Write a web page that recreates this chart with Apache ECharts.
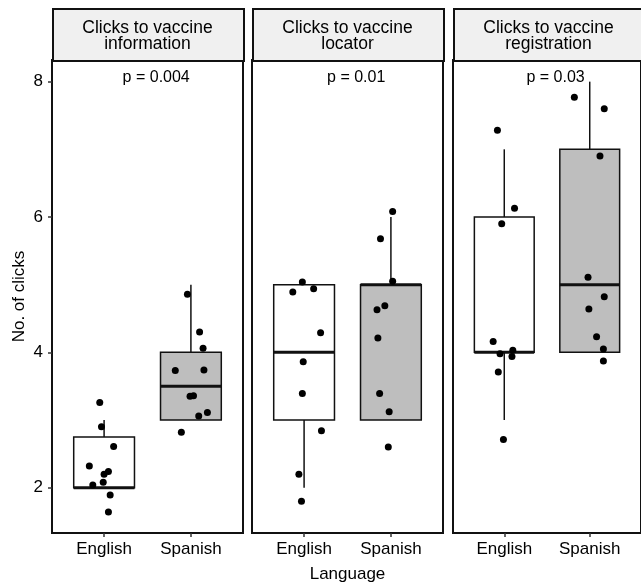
<!DOCTYPE html>
<html>
<head>
<meta charset="utf-8">
<script src="https://cdn.jsdelivr.net/npm/echarts@6/dist/echarts.min.js"></script>
<style>
  html, body { margin: 0; padding: 0; background: #fff; }
  #chart { width: 641px; height: 582px; }
</style>
</head>
<body>
<div id="chart"></div>
<script>
// facets, groups and labels
var languages = ['English', 'Spanish'];
var panelTitles = ['Clicks to vaccine\ninformation', 'Clicks to vaccine\nlocator', 'Clicks to vaccine\nregistration'];
var pLabels = ['p = 0.004', 'p = 0.01', 'p = 0.03'];
var yTicks = [2, 4, 6, 8];

// box stats: [lower whisker, Q1, median, Q3, upper whisker]
var infoBoxEnglish = [2, 2, 2, 2.75, 3];
var infoBoxSpanish = [3, 3, 3.5, 4, 5];
var locatorBoxEnglish = [2, 3, 4, 5, 5];
var locatorBoxSpanish = [3, 3, 5, 5, 6];
var registrationBoxEnglish = [3, 4, 4, 6, 7];
var registrationBoxSpanish = [4, 4, 5, 7, 8];

// jittered points: [horizontal jitter, clicks]
var infoPtsEnglish = [[-0.05, 3.26], [-0.03, 2.90], [0.11, 2.61], [-0.17, 2.32], [0.05, 2.24], [0, 2.20], [-0.13, 2.04], [-0.01, 2.08], [0.07, 1.89], [0.05, 1.64]];
var infoPtsSpanish = [[-0.04, 4.86], [0.10, 4.30], [0.14, 4.06], [-0.18, 3.73], [0.15, 3.74], [-0.01, 3.35], [0.03, 3.36], [0.09, 3.06], [0.19, 3.11], [-0.11, 2.82]];
var locatorPtsEnglish = [[-0.02, 5.04], [-0.13, 4.89], [0.11, 4.94], [0.19, 4.29], [-0.01, 3.86], [-0.02, 3.39], [0.20, 2.84], [-0.06, 2.20], [-0.03, 1.80]];
var locatorPtsSpanish = [[0.02, 6.08], [-0.12, 5.68], [0.02, 5.05], [-0.16, 4.63], [-0.07, 4.69], [-0.15, 4.21], [-0.13, 3.39], [-0.02, 3.12], [-0.03, 2.60]];
var registrationPtsEnglish = [[-0.08, 7.28], [0.12, 6.13], [-0.03, 5.90], [-0.13, 4.16], [-0.05, 3.98], [0.10, 4.03], [0.09, 3.94], [-0.07, 3.71], [-0.01, 2.71]];
var registrationPtsSpanish = [[-0.18, 7.77], [0.17, 7.60], [0.12, 6.90], [-0.02, 5.11], [0.17, 4.82], [-0.01, 4.64], [0.08, 4.23], [0.16, 4.05], [0.16, 3.87]];

var boxes = [
  [infoBoxEnglish, infoBoxSpanish],
  [locatorBoxEnglish, locatorBoxSpanish],
  [registrationBoxEnglish, registrationBoxSpanish]
];
var points = [
  [infoPtsEnglish, infoPtsSpanish],
  [locatorPtsEnglish, locatorPtsSpanish],
  [registrationPtsEnglish, registrationPtsSpanish]
];
var boxFills = ['#ffffff', '#bebebe'];

var FONT = 'Liberation Sans, Arial, sans-serif';
var panelLeft = [52, 252, 453];
var panelWidth = [191, 191, 188];
var panelTop = 60;
var panelBottom = 49;

var myChart = echarts.init(document.getElementById('chart'));

function renderBox(params, api) {
  var x = api.value(0);
  var lo = api.coord([x, api.value(1)]);
  var q1 = api.coord([x, api.value(2)]);
  var med = api.coord([x, api.value(3)]);
  var q3 = api.coord([x, api.value(4)]);
  var hi = api.coord([x, api.value(5)]);
  var half = api.size([0.7, 0])[0] / 2;
  var fill = boxFills[params.dataIndex];
  var lineStyle = { stroke: '#111', lineWidth: 1.5 };
  return {
    type: 'group',
    children: [
      { type: 'line', shape: { x1: q3[0], y1: q3[1], x2: hi[0], y2: hi[1] }, style: lineStyle },
      { type: 'line', shape: { x1: lo[0], y1: lo[1], x2: q1[0], y2: q1[1] }, style: lineStyle },
      { type: 'rect', shape: { x: q3[0] - half, y: q3[1], width: half * 2, height: q1[1] - q3[1] },
        style: { fill: fill, stroke: '#111', lineWidth: 1.5 } },
      { type: 'line', shape: { x1: med[0] - half, y1: med[1], x2: med[0] + half, y2: med[1] },
        style: { stroke: '#111', lineWidth: 3 } }
    ]
  };
}

var grids = [], xAxes = [], yAxes = [], series = [], graphics = [];

for (var i = 0; i < 3; i++) {
  grids.push({
    left: panelLeft[i], width: panelWidth[i], top: panelTop, bottom: panelBottom,
    outerBoundsMode: 'none', containLabel: false,
    show: true, borderColor: '#111', borderWidth: 2, backgroundColor: '#fff'
  });
  xAxes.push({
    type: 'value', gridIndex: i, min: 0.4, max: 2.6,
    splitLine: { show: false },
    axisLine: { show: false },
    axisTick: { show: true, customValues: [1, 2], length: 4, lineStyle: { color: '#333', width: 1.5 } },
    axisLabel: {
      customValues: [1, 2], margin: 8, color: '#000', fontSize: 17, fontFamily: FONT,
      formatter: function (v) { return languages[Math.round(v) - 1]; }
    },
    name: i === 1 ? 'Language' : '', nameLocation: 'middle', nameGap: 33,
    nameTextStyle: { color: '#000', fontSize: 17, fontFamily: FONT }
  });
  yAxes.push({
    type: 'value', gridIndex: i, min: 1.33, max: 8.32,
    splitLine: { show: false },
    axisLine: { show: false },
    axisTick: { show: i === 0, customValues: yTicks, length: 4, lineStyle: { color: '#333', width: 1.5 } },
    axisLabel: { show: i === 0, customValues: yTicks, margin: 9, color: '#000', fontSize: 17, fontFamily: FONT },
    name: i === 0 ? 'No. of clicks' : '', nameLocation: 'middle', nameGap: 24,
    nameTextStyle: { color: '#000', fontSize: 17, fontFamily: FONT }
  });

  series.push({
    type: 'custom', xAxisIndex: i, yAxisIndex: i, z: 2,
    renderItem: renderBox,
    data: boxes[i].map(function (b, k) { return [k + 1].concat(b); })
  });
  for (var k = 0; k < 2; k++) {
    series.push({
      type: 'scatter', xAxisIndex: i, yAxisIndex: i, z: 3,
      symbolSize: 7, itemStyle: { color: '#000', opacity: 1 },
      data: points[i][k].map(function (p) { return [k + 1 + p[0], p[1]]; })
    });
  }
  series.push({
    type: 'scatter', xAxisIndex: i, yAxisIndex: i, z: 4,
    symbolSize: 0, silent: true, itemStyle: { opacity: 1 },
    label: {
      show: true, position: 'inside', color: '#000', opacity: 1, fontSize: 16, fontFamily: FONT,
      formatter: pLabels[i]
    },
    data: [[1.6, 8.06]]
  });

  // facet strip
  graphics.push({
    type: 'rect', left: panelLeft[i], top: 8,
    shape: { width: panelWidth[i], height: 52 },
    style: { fill: '#f0f0f0', stroke: '#111', lineWidth: 2 }
  });
  graphics.push({
    type: 'text', x: panelLeft[i] + 191 / 2, y: 36,
    style: {
      text: panelTitles[i], fill: '#000', font: '17.5px ' + FONT, lineHeight: 16,
      align: 'center', verticalAlign: 'middle'
    }
  });
}

myChart.setOption({
  animation: false,
  backgroundColor: '#fff',
  grid: grids,
  xAxis: xAxes,
  yAxis: yAxes,
  series: series,
  graphic: graphics
});
</script>
</body>
</html>
